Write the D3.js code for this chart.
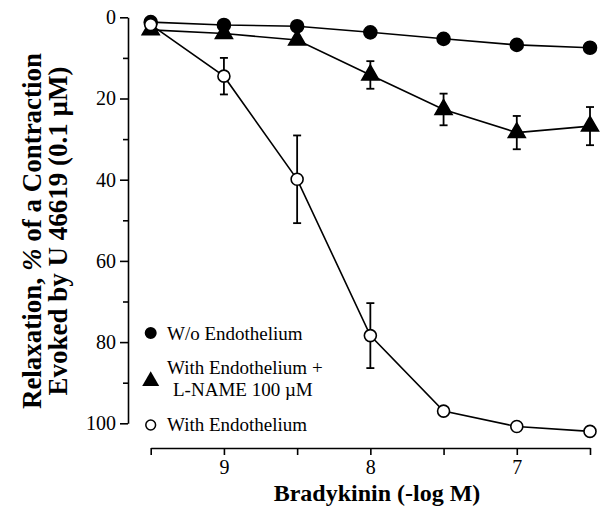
<!DOCTYPE html>
<html>
<head>
<meta charset="utf-8">
<script src="https://cdn.jsdelivr.net/npm/d3@7"></script>
<style>
  html, body { margin: 0; padding: 0; background: #fff; }
  svg { display: block; }
  svg text { font-family: "Liberation Serif", "Times New Roman", serif; fill: #000; }
</style>
</head>
<body>
<svg id="chart" width="603" height="517"></svg>
<script>
// Bradykinin concentration (-log M)
const doses = [9.5, 9, 8.5, 8, 7.5, 7, 6.5];

// Relaxation, % of U 46619 contraction (mean and SEM)
const woEndothelium    = [1.2, 1.9, 2.2, 3.7, 5.3, 6.8, 7.5];
const lnameMean        = [3.1, 4.0, 5.6, 14.2, 22.7, 28.4, 26.8];
const lnameSem         = [0, 0, 0, 3.4, 3.9, 4.1, 4.7];
const withEndothelium  = [1.8, 14.5, 39.9, 78.4, 97.0, 100.8, 102.0];
const withEndoSem      = [0, 4.5, 10.8, 8.0, 0.8, 0.8, 0.8];

const yMajorTicks = [0, 20, 40, 60, 80, 100];
const yMinorTicks = [10, 30, 50, 70, 90];
const xTickLabels = [9, 8, 7];

const svg = d3.select("#chart");

const x = d3.scaleLinear().domain([9.5, 6.5]).range([150.7, 590]);
const y = d3.scaleLinear().domain([0, 100]).range([17.3, 423.3]);

// Axes
const yAxisX = 128;
const xAxisY = 448;

svg.append("g")
  .attr("transform", `translate(${yAxisX},0)`)
  .call(d3.axisLeft(y).tickValues(yMajorTicks).tickSize(8).tickSizeOuter(0).tickPadding(4));
svg.append("g")
  .attr("transform", `translate(${yAxisX},0)`)
  .call(d3.axisLeft(y).tickValues(yMinorTicks).tickSize(5).tickFormat("").tickSizeOuter(0))
  .select(".domain").remove();

svg.append("g")
  .attr("transform", `translate(0,${xAxisY})`)
  .call(d3.axisBottom(x).tickValues(doses).tickSize(7).tickSizeOuter(0).tickPadding(5)
    .tickFormat(d => xTickLabels.includes(d) ? d3.format("d")(d) : ""));

svg.selectAll(".tick text")
  .attr("font-family", "Liberation Serif")
  .attr("font-size", 20)
  .attr("fill", "#000");
svg.selectAll(".domain, .tick line")
  .attr("stroke", "#000")
  .attr("stroke-width", 1.6);

// Axis titles
svg.append("text")
  .attr("x", 377)
  .attr("y", 501)
  .attr("text-anchor", "middle")
  .attr("font-weight", "bold")
  .attr("font-size", 24)
  .text("Bradykinin (-log M)");

const yTitle = svg.append("g").attr("transform", "translate(0,231) rotate(-90)");
const t1 = yTitle.append("text")
  .attr("x", 0).attr("y", 41)
  .attr("text-anchor", "middle")
  .attr("font-weight", "bold")
  .attr("font-size", 27);
t1.append("tspan").text("Relaxation, ");
t1.append("tspan").attr("font-style", "italic").text("%");
t1.append("tspan").text(" of a Contraction");
yTitle.append("text")
  .attr("x", 0).attr("y", 67)
  .attr("text-anchor", "middle")
  .attr("font-weight", "bold")
  .attr("font-size", 27)
  .text("Evoked by U 46619 (0.1 µM)");

// Series
const series = [
  { name: "W/o Endothelium", values: woEndothelium, sem: null, symbol: d3.symbolCircle, size: 133, fill: "#000" },
  { name: "L-NAME", values: lnameMean, sem: lnameSem, symbol: d3.symbolTriangle, size: 125, fill: "#000" },
  { name: "With Endothelium", values: withEndothelium, sem: withEndoSem, symbol: d3.symbolCircle, size: 113, fill: "#fff" }
];

const line = d3.line().x(d => x(d[0])).y(d => y(d[1]));

series.forEach(s => {
  const pts = doses.map((d, i) => [d, s.values[i], s.sem ? s.sem[i] : 0]);
  const g = svg.append("g");
  g.append("path")
    .attr("d", line(pts))
    .attr("fill", "none")
    .attr("stroke", "#000")
    .attr("stroke-width", 1.6);

  // error bars with caps
  const eb = g.selectAll(".eb").data(pts.filter(p => p[2] > 0)).join("g");
  eb.append("line")
    .attr("x1", p => x(p[0])).attr("x2", p => x(p[0]))
    .attr("y1", p => y(p[1] - p[2])).attr("y2", p => y(p[1] + p[2]))
    .attr("stroke", "#000").attr("stroke-width", 1.8);
  [-1, 1].forEach(sign => {
    eb.append("line")
      .attr("x1", p => x(p[0]) - 4).attr("x2", p => x(p[0]) + 4)
      .attr("y1", p => y(p[1] + sign * p[2])).attr("y2", p => y(p[1] + sign * p[2]))
      .attr("stroke", "#000").attr("stroke-width", 1.8);
  });

  g.selectAll(".mk").data(pts).join("path")
    .attr("transform", p => `translate(${x(p[0])},${y(p[1])})`)
    .attr("d", d3.symbol(s.symbol, s.size))
    .attr("fill", s.fill)
    .attr("stroke", "#000")
    .attr("stroke-width", 1.6);
});

// Legend
const legend = svg.append("g").attr("font-size", 19);
const lx = 150.7, tx = 167;

legend.append("path")
  .attr("transform", `translate(${lx},333)`)
  .attr("d", d3.symbol(d3.symbolCircle, 113))
  .attr("fill", "#000");
legend.append("text").attr("x", tx).attr("y", 340).text("W/o Endothelium");

legend.append("path")
  .attr("transform", `translate(${lx},381)`)
  .attr("d", d3.symbol(d3.symbolTriangle, 125))
  .attr("fill", "#000");
legend.append("text").attr("x", tx).attr("y", 374).text("With Endothelium +");
legend.append("text").attr("x", tx + 6).attr("y", 396).text("L-NAME 100 µM");

legend.append("path")
  .attr("transform", `translate(${lx},425)`)
  .attr("d", d3.symbol(d3.symbolCircle, 75))
  .attr("fill", "#fff")
  .attr("stroke", "#000")
  .attr("stroke-width", 1.5);
legend.append("text").attr("x", tx).attr("y", 431).text("With Endothelium");
</script>
</body>
</html>
